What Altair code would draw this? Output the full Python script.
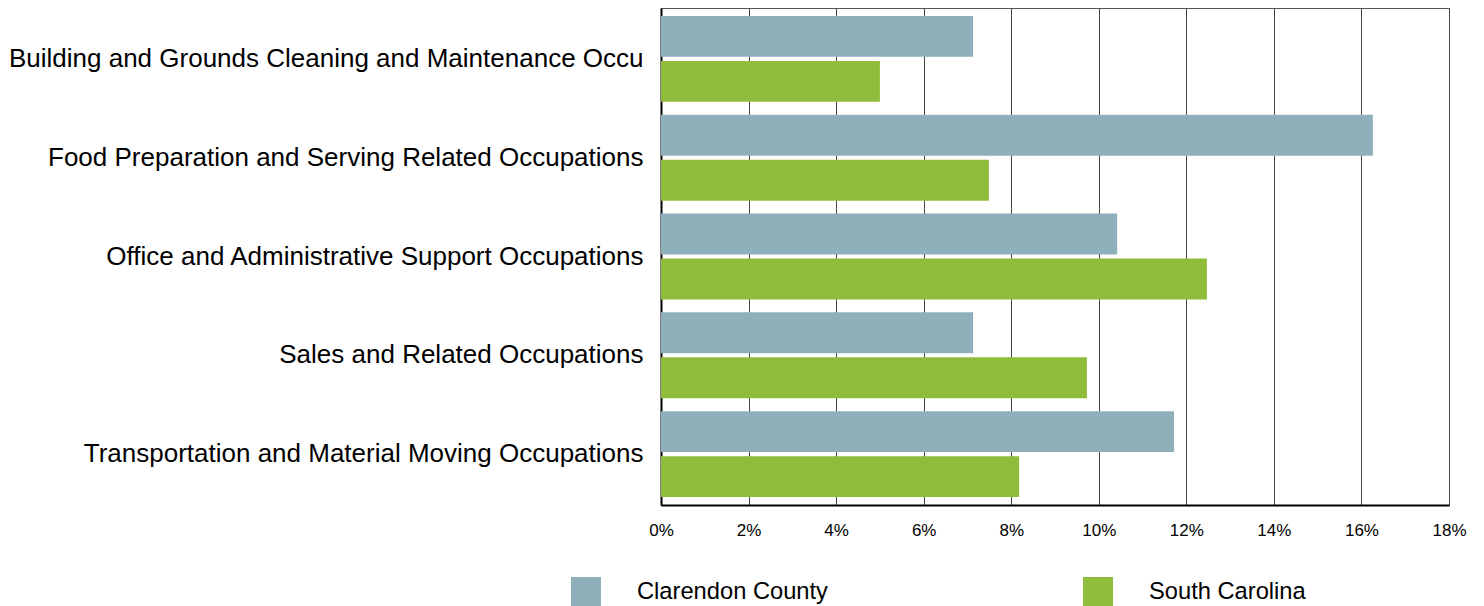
import altair as alt
import pandas as pd

categories = [
    "Building and Grounds Cleaning and Maintenance Occu",
    "Food Preparation and Serving Related Occupations",
    "Office and Administrative Support Occupations",
    "Sales and Related Occupations",
    "Transportation and Material Moving Occupations",
]
series = ["Clarendon County", "South Carolina"]
clarendon = [7.13, 16.26, 10.42, 7.13, 11.72]
south_carolina = [5.0, 7.49, 12.47, 9.73, 8.18]
colors = ["#8FAFBA", "#8FBD3B"]
x_ticks = [0, 2, 4, 6, 8, 10, 12, 14, 16, 18]

rows = []
for c, a, b in zip(categories, clarendon, south_carolina):
    rows.append({"category": c, "series": series[0], "value": a / 100})
    rows.append({"category": c, "series": series[1], "value": b / 100})
df = pd.DataFrame(rows)

FONT = "Liberation Sans"

chart = alt.Chart(df).mark_bar().encode(
    y=alt.Y("category:N", sort=categories, title=None,
            scale=alt.Scale(paddingInner=0.13, paddingOuter=0.08),
            axis=alt.Axis(labelFontSize=26.0, labelFont=FONT, labelColor="#000",
                          ticks=False, labelPadding=18, domain=True,
                          domainColor="#000", domainWidth=2, labelLimit=900)),
    yOffset=alt.YOffset("series:N", sort=series,
                        scale=alt.Scale(paddingInner=0.09)),
    x=alt.X("value:Q", title=None,
            scale=alt.Scale(domain=[0, 0.18], nice=False),
            axis=alt.Axis(values=[t / 100 for t in x_ticks], format=".0%",
                          labelFontSize=17, labelFont=FONT, labelColor="#000",
                          labelFlush=False,
                          ticks=False, labelPadding=17, grid=True,
                          gridColor="#444", gridWidth=1,
                          domainColor="#000", domainWidth=2)),
    color=alt.Color("series:N", sort=series,
                    scale=alt.Scale(domain=series, range=colors),
                    legend=alt.Legend(title=None, orient="none", legendX=-90,
                                      legendY=569, direction="horizontal",
                                      columns=2, symbolType="square",
                                      symbolSize=900, symbolStrokeWidth=0,
                                      labelFontSize=23.7, labelFont=FONT,
                                      labelColor="#000", labelOffset=36,
                                      labelLimit=600,
                                      columnPadding=255, padding=0)),
).properties(
    width=788, height=497, padding=0
).configure_view(
    stroke="#555", strokeWidth=1
)

chart.save("out.html", embed_options={"renderer": "svg", "actions": False})
